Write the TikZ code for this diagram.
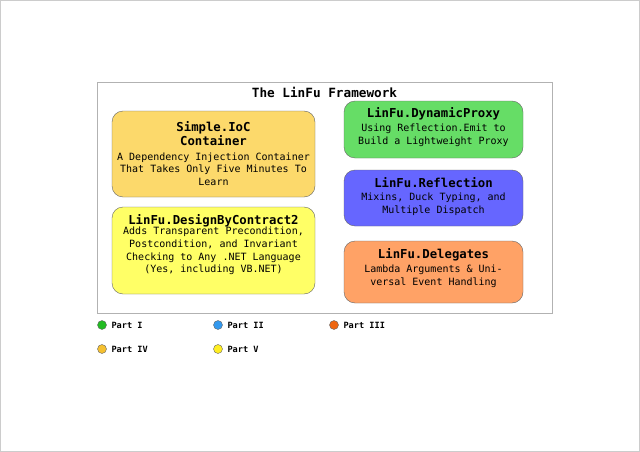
\documentclass[tikz,border=0pt]{standalone}
\usepackage{fontspec}
\setmonofont{DejaVu Sans Mono}
\begin{document}
\begin{tikzpicture}[x=1pt,y=-1pt,font=\ttfamily,
  card/.style={draw=black!60,rounded corners=11pt,align=center,inner sep=2pt},
  hd/.style={font=\ttfamily\bfseries\fontsize{12.3}{14}\selectfont},
  bd/.style={font=\ttfamily\fontsize{10}{12.6}\selectfont},
  dot/.style={circle,draw=black!60,minimum size=9pt,inner sep=0pt},
  lg/.style={anchor=west,font=\ttfamily\bfseries\fontsize{8.6}{10}\selectfont}]
\useasboundingbox (0,0) rectangle (640,452);
\draw[black!20] (0.5,0.5) rectangle (639.5,451.5);
\draw[black!30,fill=white] (97,82) rectangle (552,313);
\node[font=\ttfamily\bfseries\fontsize{12.7}{14}\selectfont] (title) at (324.5,92) {The LinFu Framework};
\draw[card,fill={rgb,255:red,252;green,217;blue,107}] (112,111) rectangle (315,197);
\node[hd,align=center] (ioch) at (213.5,134) {Simple.IoC\\Container};
\node[bd,align=center] (iocb) at (213.5,169) {A Dependency Injection Container\\That Takes Only Five Minutes To\\Learn};
\draw[card,fill={rgb,255:red,255;green,255;blue,102}] (112,207) rectangle (315,294);
\node[hd] (dbch) at (213.5,221) {LinFu.DesignByContract2};
\node[bd,align=center] (dbcb) at (213.5,251) {Adds Transparent Precondition,\\Postcondition, and Invariant\\Checking to Any .NET Language\\(Yes, including VB.NET)};
\draw[card,fill={rgb,255:red,102;green,221;blue,102}] (344,101) rectangle (523,158);
\node[hd] (dph) at (433.5,114) {LinFu.DynamicProxy};
\node[bd,align=center] (dpb) at (433.5,135) {Using Reflection.Emit to\\Build a Lightweight Proxy};
\draw[card,fill={rgb,255:red,102;green,102;blue,255}] (344,170) rectangle (523,226);
\node[hd] (rfh) at (433.5,183) {LinFu.Reflection};
\node[bd,align=center] (rfb) at (433.5,204) {Mixins, Duck Typing, and\\Multiple Dispatch};
\draw[card,fill={rgb,255:red,255;green,162;blue,102}] (344,241) rectangle (523,303);
\node[hd] (dlh) at (433.5,255) {LinFu.Delegates};
\node[bd,align=center] (dlb) at (433.5,276) {Lambda Arguments \& Uni-\\versal Event Handling};
\node[dot,fill={rgb,255:red,34;green,187;blue,34}] (d1) at (102,325) {};
\node[lg] (l1) at (108,325) {Part I};
\node[dot,fill={rgb,255:red,51;green,153;blue,238}] (d2) at (218,325) {};
\node[lg] (l2) at (224,325) {Part II};
\node[dot,fill={rgb,255:red,238;green,102;blue,17}] (d3) at (334,325) {};
\node[lg] (l3) at (340,325) {Part III};
\node[dot,fill={rgb,255:red,245;green,192;blue,48}] (d4) at (102,349) {};
\node[lg] (l4) at (108,349) {Part IV};
\node[dot,fill={rgb,255:red,255;green,238;blue,34}] (d5) at (218,349) {};
\node[lg] (l5) at (224,349) {Part V};
\end{tikzpicture}
\end{document}
